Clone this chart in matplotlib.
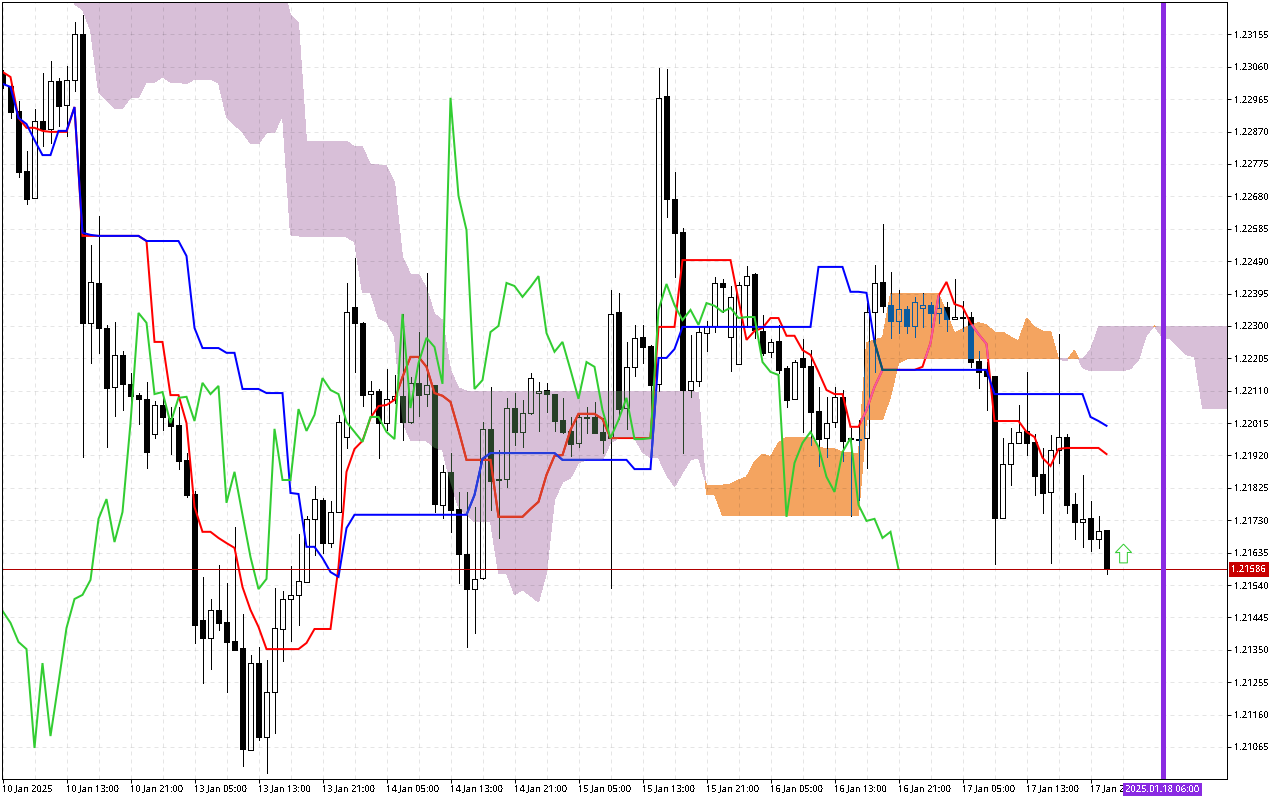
import matplotlib
matplotlib.use("Agg")
import matplotlib.pyplot as plt
import numpy as np
from matplotlib.path import Path

# quotes in points (1.21586 -> 121586)
opens = [123042, 123004, 122930, 122754, 122675, 122901, 122878, 123018, 122948, 123021,
         123156, 122309, 122426, 122294, 122121, 122215, 122130, 122097, 122086, 121983,
         122068, 122030, 122009, 121907, 121807, 121438, 121385, 121467, 121432, 121376,
         121355, 121056, 121311, 121094, 121226, 121411, 121499, 121511, 121549, 121734,
         121789, 121663, 121754, 121974, 122356, 122309, 122100, 122109, 122015, 122086,
         122095, 122018, 122133, 122100, 122127, 121775, 121872, 121763, 121631, 121528,
         121561, 121998, 121851, 121851, 122059, 121989, 122045, 122103, 122112, 122100,
         122024, 121992, 121957, 122033, 122033, 121989, 121971, 122341, 122059, 122180,
         122268, 122241, 122130, 122974, 122672, 122576, 122112, 122139, 122279, 122300,
         122426, 122268, 122188, 122420, 122452, 122285, 122224, 122256, 122177, 122086,
         122206, 122183, 122051, 121971, 122018, 122092, 121971, 121968, 121971, 122341,
         122429, 122361, 122315, 122350, 122300, 122353, 122361, 122338, 122356, 122320,
         122326, 122326, 122197, 122174, 122153, 121737, 121895, 121957, 121992, 121960,
         121866, 121813, 121936, 121974, 121778, 121725, 121737, 121675, 121702]
highs = [123051, 123015, 122960, 122813, 122936, 123042, 123077, 123027, 123062, 123191,
         123212, 122537, 122622, 122303, 122312, 122227, 122162, 122103, 122136, 122080,
         122095, 122062, 122062, 121927, 121816, 121564, 121499, 121599, 121546, 121710,
         121455, 121335, 121358, 121320, 121531, 121523, 121596, 121690, 121743, 121831,
         121795, 121787, 122039, 122426, 122499, 122312, 122139, 122115, 122174, 122156,
         122335, 122150, 122282, 122455, 122127, 121892, 121927, 121813, 121813, 121769,
         122018, 122121, 121936, 122089, 122103, 122083, 122162, 122136, 122133, 122100,
         122089, 122033, 122039, 122062, 122077, 122030, 122405, 122397, 122253, 122303,
         122303, 122244, 123057, 123054, 122752, 122587, 122273, 122297, 122315, 122444,
         122438, 122417, 122429, 122476, 122455, 122332, 122262, 122303, 122183, 122200,
         122262, 122229, 122121, 122092, 122121, 122112, 122001, 122024, 122367, 122479,
         122599, 122458, 122405, 122359, 122385, 122397, 122370, 122391, 122370, 122438,
         122373, 122341, 122227, 122194, 122153, 121971, 122001, 122068, 122165, 121983,
         121942, 121980, 122276, 121983, 121810, 121863, 121787, 121743, 121702]
lows = [122998, 122910, 122737, 122658, 122675, 122828, 122837, 122886, 122857, 122989,
        121916, 122191, 122221, 121945, 122036, 122053, 122056, 122012, 121883, 121971,
        121995, 121924, 121880, 121798, 121370, 121253, 121294, 121408, 121226, 121350,
        121009, 121056, 121086, 120989, 121106, 121317, 121376, 121423, 121549, 121628,
        121634, 121652, 121754, 121942, 122165, 122065, 122036, 121913, 121995, 122074,
        121965, 122015, 122036, 122065, 121754, 121737, 121696, 121546, 121358, 121399,
        121558, 121760, 121678, 121828, 121951, 121945, 122042, 121992, 122048, 121992,
        121986, 121919, 121945, 121986, 121986, 121927, 121531, 122027, 121998, 122153,
        122191, 122015, 122109, 122620, 122444, 121927, 122092, 122124, 122227, 122282,
        122341, 122168, 122188, 122297, 122265, 122215, 122209, 122162, 122062, 122086,
        121989, 121951, 121889, 121916, 122004, 121904, 121743, 121789, 121883, 122165,
        122341, 122265, 122279, 122279, 122268, 122297, 122297, 122309, 122285, 122320,
        122285, 122180, 122118, 122053, 121602, 121737, 121833, 121957, 121921, 121804,
        121751, 121605, 121898, 121751, 121675, 121652, 121640, 121649, 121572]
closes = [123010, 122928, 122752, 122672, 122901, 122878, 123018, 122945, 123021, 123156,
          122309, 122429, 122294, 122118, 122215, 122130, 122095, 122086, 121930, 122068,
          122033, 122007, 121904, 121804, 121423, 121385, 121467, 121429, 121373, 121350,
          121059, 121311, 121094, 121226, 121414, 121499, 121511, 121552, 121734, 121792,
          121663, 121754, 122018, 122341, 122309, 122097, 122109, 122015, 122086, 122095,
          122018, 122133, 122097, 122127, 121778, 121872, 121760, 121631, 121528, 121558,
          121998, 121845, 121848, 122059, 121989, 122045, 122147, 122109, 122100, 122021,
          121989, 121954, 122033, 122030, 121986, 121965, 122335, 122056, 122180, 122265,
          122238, 122127, 122969, 122672, 122573, 122112, 122139, 122282, 122300, 122426,
          122414, 122385, 122420, 122446, 122288, 122221, 122253, 122171, 122083, 122194,
          122180, 122048, 121968, 122015, 122092, 121963, 121968, 121965, 122341, 122426,
          122359, 122315, 122350, 122300, 122370, 122361, 122338, 122353, 122320, 122326,
          122323, 122194, 122165, 122153, 121737, 121895, 121957, 121989, 121957, 121860,
          121810, 121936, 121974, 121775, 121725, 121734, 121675, 121699, 121586]

tenkan = [123045, 123030, 122910, 122881, 122881, 122872, 122869, 122869, 122869, 122942,
          122564, 122564, 122564, 122564, 122564, 122564, 122564, 122564, 122549, 122253,
          122253, 122097, 122097, 122015, 121769, 121696, 121696, 121678, 121663, 121649,
          121534, 121467, 121417, 121352, 121352, 121352, 121352, 121352, 121370, 121411,
          121411, 121411, 121593, 121872, 121939, 121963, 122030, 122065, 122068, 122083,
          122150, 122209, 122209, 122180, 122103, 122095, 122077, 121995, 121907, 121907,
          121907, 121907, 121740, 121740, 121740, 121740, 121763, 121784, 121863, 121919,
          121921, 121995, 122042, 122042, 122042, 122027, 121971, 121971, 121971, 121971,
          121971, 121971, 122297, 122297, 122297, 122493, 122493, 122493, 122493, 122493,
          122493, 122493, 122376, 122259, 122285, 122294, 122323, 122323, 122271, 122271,
          122229, 122215, 122165, 122112, 122100, 122100, 122004, 122004, 122053, 122121,
          122171, 122171, 122171, 122171, 122171, 122180, 122250, 122388, 122429, 122364,
          122356, 122309, 122276, 122247, 122021, 122021, 122021, 122021, 121989, 121974,
          121913, 121889, 121939, 121942, 121942, 121942, 121942, 121942, 121924]
kijun = [123010, 123001, 122910, 122892, 122845, 122801, 122801, 122872, 122872, 122942,
         122573, 122567, 122564, 122564, 122564, 122564, 122564, 122564, 122549, 122549,
         122549, 122549, 122549, 122505, 122294, 122235, 122235, 122235, 122221, 122221,
         122115, 122115, 122115, 122103, 122103, 122103, 121810, 121807, 121652, 121652,
         121619, 121578, 121564, 121707, 121746, 121746, 121746, 121746, 121746, 121746,
         121746, 121746, 121746, 121746, 121746, 121746, 121746, 121746, 121746, 121804,
         121910, 121927, 121927, 121927, 121927, 121927, 121927, 121927, 121927, 121927,
         121907, 121907, 121907, 121907, 121907, 121907, 121907, 121907, 121907, 121880,
         121880, 121880, 122206, 122206, 122232, 122297, 122297, 122297, 122297, 122297,
         122297, 122297, 122297, 122297, 122297, 122297, 122297, 122297, 122297, 122297,
         122297, 122297, 122473, 122473, 122473, 122473, 122400, 122400, 122397, 122253,
         122171, 122171, 122171, 122171, 122171, 122171, 122171, 122171, 122171, 122171,
         122171, 122171, 122171, 122171, 122100, 122100, 122100, 122100, 122100, 122100,
         122100, 122100, 122100, 122100, 122100, 122100, 122033, 122021, 122007]
chikou = [121464, 121429, 121373, 121352, 121062, 121311, 121097, 121253, 121414, 121499,
          121511, 121555, 121734, 121792, 121666, 121754, 122015, 122338, 122309, 122100,
          122106, 122015, 122089, 122092, 122021, 122133, 122100, 122124, 121781, 121872,
          121746, 121622, 121528, 121558, 121998, 121848, 121848, 122056, 121992, 122039,
          122147, 122112, 122100, 122018, 121989, 121960, 122033, 122033, 121989, 121968,
          122335, 122059, 122191, 122265, 122238, 122130, 122969, 122681, 122581, 122115,
          122141, 122282, 122300, 122426, 122417, 122385, 122414, 122446, 122279, 122224,
          122253, 122171, 122086, 122194, 122180, 122053, 121971, 122024, 122089, 121968,
          121968, 121971, 122347, 122423, 122361, 122317, 122347, 122303, 122367, 122359,
          122341, 122353, 122323, 122326, 122326, 122194, 122165, 122156, 121740, 121898,
          121957, 121989, 121945, 121857, 121813, 121930, 121971, 121775, 121728, 121734,
          121678, 121696, 121587]

# cloud starts at bar 9 and runs past the last candle
cloud_start = 9
senkou_a = [123244, 123227, 123168, 122986, 122963, 122939, 122939, 122969, 122969, 123015,
            123015, 123030, 123015, 123015, 123010, 123024, 123024, 123024, 123013, 122913,
            122889, 122869, 122834, 122834, 122866, 122866, 122919, 122567, 122564, 122561,
            122561, 122561, 122561, 122561, 122561, 122546, 122397, 122397, 122323, 122312,
            122268, 122018, 121965, 121965, 121963, 121942, 121936, 121839, 121769, 121746,
            121725, 121725, 121725, 121575, 121575, 121511, 121526, 121508, 121490, 121575,
            121789, 121842, 121854, 121898, 121907, 121907, 121907, 121957, 121971, 121971,
            121971, 121930, 121913, 121913, 121863, 121828, 121869, 121907, 121913,
            121833, 121833, 121833, 121836, 121848, 121857, 121901, 121924, 121916, 121957,
            121974, 121974, 121974, 121974, 121945, 121939, 121939, 121930, 121927, 121927,
            122250, 122259, 122265, 122394, 122394, 122394, 122394, 122394, 122394, 122394,
            122338, 122279, 122291, 122303, 122309, 122303, 122282, 122282, 122268, 122256,
            122323, 122297, 122285, 122285, 122203, 122197, 122229, 122177, 122168, 122168,
            122168, 122168, 122168, 122174, 122200, 122273, 122300, 122265, 122262, 122238,
            122215, 122209, 122059, 122059, 122059, 122059, 122059]
senkou_b = [123300] * 27 + [123212, 123189,
            122842, 122842, 122842, 122842, 122842, 122842, 122825, 122825, 122772, 122772,
            122769, 122722, 122502, 122452, 122452, 122411, 122335, 122317, 122171, 122118] + [122109] * 29 + [122103,
            121804, 121807] + [121743] * 18 + [122024, 122024, 122024, 122092, 122191] + [122203] * 23 + [122229] + [122297] * 18

tick_labels = ["10 Jan 2025", "10 Jan 13:00", "10 Jan 21:00", "13 Jan 05:00", "13 Jan 13:00", "13 Jan 21:00",
               "14 Jan 05:00", "14 Jan 13:00", "14 Jan 21:00", "15 Jan 05:00", "15 Jan 13:00", "15 Jan 21:00",
               "16 Jan 05:00", "16 Jan 13:00", "16 Jan 21:00", "17 Jan 05:00", "17 Jan 13:00", "17 Jan 21:00"]
price_ticks = [121065 + 95 * k for k in range(23)]
last_price = 121586
marker_bar = 145
marker_label = "2025.01.18 06:00"
arrow_bar = 140
arrow_price = 121633

plt.rcParams["font.family"] = ["Noto Sans", "DejaVu Sans"]
plt.rcParams["font.size"] = 6.7
plt.rcParams["text.antialiased"] = False

PX = 0.72  # one pixel at dpi 100, in points


def px(values):
    return np.array(values) / 1e5


o, h, l, c = px(opens), px(highs), px(lows), px(closes)
bars = np.arange(len(o))
cloud_x = np.arange(len(senkou_a)) + cloud_start
a, b = px(senkou_a), px(senkou_b)

fig = plt.figure(figsize=(12.8, 8), dpi=100)
ax = fig.add_axes([2 / 1280, 21 / 800, 1225 / 1280, 777 / 800])
ax.set_xlim(-0.0625, 153.0625)
ax.set_ylim(1.20971, 1.23250)

# the terminal xors indicators with the cloud, so marks get other colours inside it
purple_fill = ax.fill_between(cloud_x, a, b, where=a <= b, interpolate=True, color="#d8bfd8", lw=0, zorder=1, antialiased=False)
orange_fill = ax.fill_between(cloud_x, a, b, where=a >= b, interpolate=True, color="#f4a460", lw=0, zorder=1, antialiased=False)
purple_path = Path.make_compound_path(*purple_fill.get_paths())
orange_path = Path.make_compound_path(*orange_fill.get_paths())


def draw_candles(color, z, clip=None):
    top = np.maximum(o, c)
    bottom = np.minimum(o, c)
    items = [
        ax.vlines(bars, top, h, color=color, lw=PX, zorder=z, antialiased=False),
        ax.vlines(bars, l, bottom, color=color, lw=PX, zorder=z, antialiased=False),
    ]
    down = c < o
    up = ~down
    items += list(ax.bar(bars[down], (top - bottom)[down], bottom=bottom[down], width=0.56, color=color, edgecolor=color,
                         lw=PX, zorder=z, antialiased=False))
    items += list(ax.bar(bars[up], (top - bottom)[up], bottom=bottom[up], width=0.56, facecolor="none", edgecolor=color,
                         lw=PX, zorder=z, antialiased=False))
    if clip is not None:
        for item in items:
            item.set_clip_path(clip, ax.transData)


def draw_line(values, color, z, clip=None):
    x = np.arange(len(values))
    line, = ax.plot(x, px(values), color=color, lw=2 * PX, zorder=z, solid_joinstyle="miter")
    if clip is not None:
        line.set_clip_path(clip, ax.transData)


draw_candles("black", 2)
draw_candles("#274027", 2.1, purple_path)
draw_candles("#0b5b9f", 2.1, orange_path)

draw_line(tenkan, "#ff0000", 3)
draw_line(tenkan, "#d84027", 3.1, purple_path)
draw_line(tenkan, "#f45b9f", 3.1, orange_path)
draw_line(kijun, "#0000ff", 3.2)
draw_line(kijun, "#2740d8", 3.3, purple_path)
draw_line(kijun, "#0b5b60", 3.3, orange_path)
draw_line(chikou, "#32cd32", 4)

# buy arrow
arrow = [(0, 1), (0.855, 0.11), (0.41, 0.11), (0.41, -1), (-0.41, -1), (-0.41, 0.11), (-0.855, 0.11), (0, 1)]
ax.plot([arrow_bar], [arrow_price / 1e5], marker=arrow, ms=13.5, mfc="white", mec="#32cd32", mew=PX, ls="none", zorder=5)

ax.axhline(last_price / 1e5, color="#b00000", lw=PX, zorder=5)
ax.axvline(marker_bar, color="#8a2be2", lw=5 * PX, zorder=6)

# grid and ticks
ax.set_axisbelow("line")
ax.set_xticks(np.arange(len(tick_labels)) * 8, tick_labels, ha="left")
ax.set_xticks(np.arange(len(tick_labels)) * 8 + 4, minor=True)
ax.set_yticks(px(price_ticks), [f"{p / 1e5:.5f}" for p in price_ticks])
ax.yaxis.tick_right()
ax.tick_params(axis="both", which="major", length=3, width=PX, labelsize=6.7, color="black")
ax.tick_params(axis="x", which="major", pad=0.5)
ax.tick_params(axis="y", which="major", pad=2)
ax.tick_params(axis="x", which="minor", length=0)
ax.grid(which="both", color="black", alpha=0.1, lw=PX, ls=(0, (4, 4)))
for spine in ax.spines.values():
    spine.set_linewidth(PX)
    spine.set_zorder(7)

ax.text(1 + 22 / 1225, last_price / 1e5, f"{last_price / 1e5:.5f}", transform=ax.get_yaxis_transform(), color="white",
        ha="center", va="center", fontsize=6.7, zorder=10, clip_on=False,
        bbox=dict(facecolor="#c80000", edgecolor="none", pad=2))
ax.text(marker_bar, -10.5 / 777, marker_label, transform=ax.get_xaxis_transform(), color="white",
        ha="center", va="center", fontsize=6.7, zorder=10, clip_on=False,
        bbox=dict(facecolor="#8a2be2", edgecolor="none", pad=1.5))

fig.savefig("out.png", dpi=100)
